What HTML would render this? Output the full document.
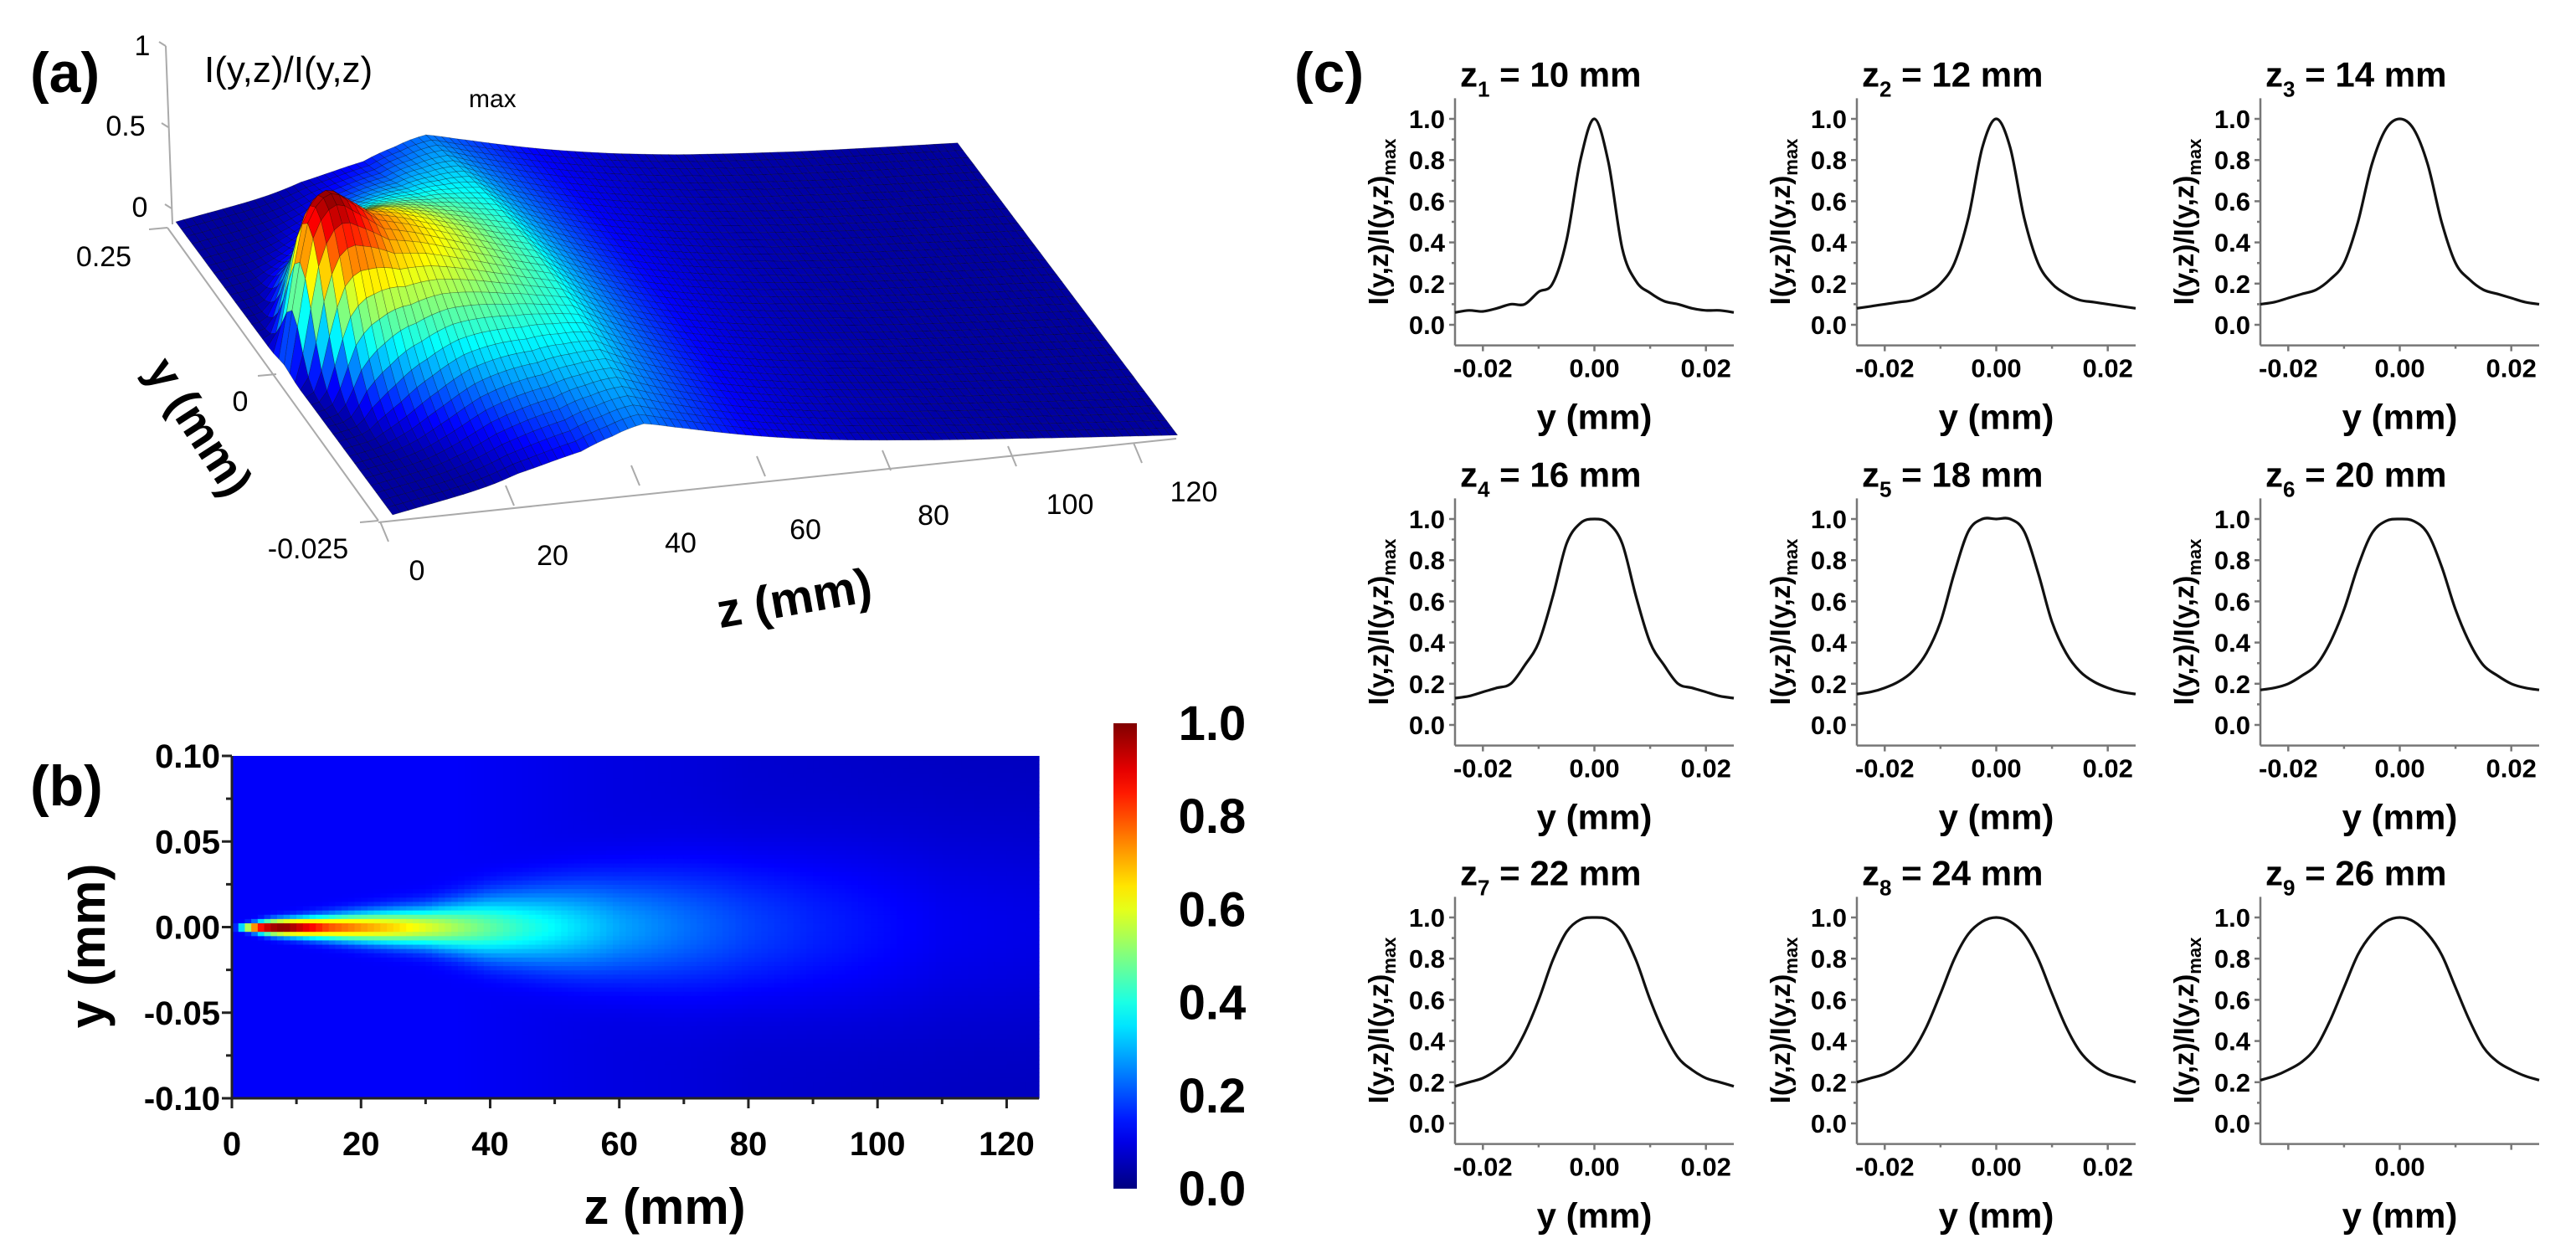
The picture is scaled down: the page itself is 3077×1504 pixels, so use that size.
<!DOCTYPE html>
<html><head><meta charset="utf-8"><style>
html,body{margin:0;padding:0;background:#fff;}
svg{display:block;font-family:"Liberation Sans",Arial,sans-serif;}
</style></head><body>
<svg id="fig" width="3077" height="1504" viewBox="0 0 3077 1504" xmlns="http://www.w3.org/2000/svg">
<defs><linearGradient id="cbGrad" x1="0" y1="1" x2="0" y2="0"></linearGradient></defs>
<g id="panelA"></g>
<g id="panelB"></g>
<g id="panelC"></g>
</svg>
<script>
// ---------- data: panel (b) heatmap / (a) surface model ----------
const hmZ     = [0,2,4,6,8,10,15,20,25,30,35,40,45,50,55,60,70,80,90,100,110,125];
const hmPeak  = [0.05,0.55,0.9,0.98,1.0,0.93,0.76,0.68,0.61,0.54,0.47,0.41,0.36,0.32,0.28,0.24,0.19,0.15,0.12,0.10,0.08,0.07];
const hmWidth = [0.001,0.002,0.003,0.004,0.0045,0.005,0.0065,0.008,0.0095,0.011,0.014,0.018,0.021,0.024,0.027,0.03,0.035,0.04,0.045,0.05,0.055,0.06];
const hmBase  = [0.12,0.12,0.12,0.12,0.12,0.12,0.12,0.12,0.12,0.12,0.12,0.115,0.11,0.105,0.1,0.095,0.09,0.08,0.075,0.07,0.065,0.06];
const bXTicks = [0,20,40,60,80,100,120];
const bYTicks = [0.10,0.05,0.00,-0.05,-0.10];
const bYTickLabels = ["0.10","0.05","0.00","-0.05","-0.10"];
const cbTicks = ["0.0","0.2","0.4","0.6","0.8","1.0"];

// ---------- data: panel (c) profiles ----------
const cY = [-0.025,-0.0225,-0.02,-0.0175,-0.015,-0.0125,-0.01,-0.0075,-0.005,-0.0025,0,0.0025,0.005,0.0075,0.01,0.0125,0.015,0.0175,0.02,0.0225,0.025];
const prof1 = [.06,.07,.065,.08,.10,.10,.16,.20,.41,.80,1.0,.79,.37,.21,.155,.115,.10,.08,.07,.07,.06];
const prof2 = [.08,.09,.10,.11,.12,.15,.20,.30,.52,.86,1.0,.86,.52,.30,.20,.15,.12,.11,.10,.09,.08];
const prof3 = [.10,.11,.13,.15,.17,.22,.30,.50,.78,.95,1.0,.95,.78,.50,.30,.22,.17,.15,.13,.11,.10];
const prof4 = [.13,.14,.16,.18,.20,.29,.40,.62,.88,.98,1.0,.98,.88,.62,.40,.29,.20,.18,.16,.14,.13];
const prof5 = [.15,.16,.18,.21,.26,.35,.50,.74,.94,1.0,1.0,1.0,.94,.74,.50,.35,.26,.21,.18,.16,.15];
const prof6 = [.17,.18,.20,.24,.29,.40,.56,.77,.93,.99,1.0,.99,.93,.77,.56,.40,.29,.24,.20,.18,.17];
const prof7 = [.18,.20,.22,.26,.32,.44,.60,.79,.93,.99,1.0,.99,.93,.79,.60,.44,.32,.26,.22,.20,.18];
const prof8 = [.20,.22,.24,.28,.35,.47,.63,.80,.92,.98,1.0,.98,.92,.80,.63,.47,.35,.28,.24,.22,.20];
const prof9 = [.21,.23,.26,.30,.37,.50,.66,.82,.92,.98,1.0,.98,.92,.82,.66,.50,.37,.30,.26,.23,.21];
const profiles = [prof1,prof2,prof3,prof4,prof5,prof6,prof7,prof8,prof9];
const profZ = ["10","12","14","16","18","20","22","24","26"];
const cYTicks = [0,0.2,0.4,0.6,0.8,1.0];
const cYTickLabels = ["0.0","0.2","0.4","0.6","0.8","1.0"];
const cXTicks = [-0.02,0,0.02];
const cXTickLabels = ["-0.02","0.00","0.02"];

// ---------- helpers ----------
const NS="http://www.w3.org/2000/svg";
function mk(tag,parent,attrs){const e=document.createElementNS(NS,tag);for(const k in attrs)e.setAttribute(k,attrs[k]);parent.appendChild(e);return e;}
function cl(v){return Math.max(0,Math.min(1,v));}
function jet(v){v=cl(v);const r=cl(1.5-Math.abs(4*v-3)),g=cl(1.5-Math.abs(4*v-2)),b=cl(1.5-Math.abs(4*v-1));return `rgb(${Math.round(r*255)},${Math.round(g*255)},${Math.round(b*255)})`;}
function interp(xs,ys,x){if(x<=xs[0])return ys[0];for(let i=1;i<xs.length;i++){if(x<=xs[i]){const t=(x-xs[i-1])/(xs[i]-xs[i-1]);return ys[i-1]+t*(ys[i]-ys[i-1]);}}return ys[ys.length-1];}
function field(z,y,wScale){const p=interp(hmZ,hmPeak,z),w=interp(hmZ,hmWidth,z)*wScale,b=interp(hmZ,hmBase,z);return Math.min(1,b+(p-b*0.5)*Math.exp(-(y*y)/(w*w)));}
function sfield(z,y){const p=interp(hmZ,hmPeak,z),w=interp(hmZ,hmWidth,z)*1.8;const fall=z>40?Math.exp(-(z-40)/25):1;return 0.03+(p-0.03)*fall*Math.exp(-(y*y)/(w*w));}
function txt(parent,x,y,s,attrs){const t=mk('text',parent,Object.assign({x:x,y:y},attrs||{}));t.textContent=s;return t;}

// ---------- panel (b) ----------
const B=document.getElementById('panelB');
const bx0=277,bx1=1241,by0=1312,by1=903;
const bX=z=>bx0+(z/125)*(bx1-bx0);
const bY=y=>by0+((y+0.1)/0.2)*(by1-by0);
const cells=mk('g',B,{});


const dz=1,dy=0.0025;
for(let z=0;z<125;z+=dz){for(let y=-0.1;y<0.0999;y+=dy){
  const v=field(z+dz/2,y+dy/2,1);
  const r=mk('rect',cells,{x:bX(z).toFixed(2),y:bY(y+dy).toFixed(2),width:(bX(z+dz)-bX(z)+0.6).toFixed(2),height:(bY(y)-bY(y+dy)+0.6).toFixed(2),fill:jet(v)});
  
  
}}
const bAx=mk('g',B,{stroke:'#222','stroke-width':3});


mk('line',bAx,{x1:bx0,y1:by1,x2:bx0,y2:by0});
mk('line',bAx,{x1:bx0,y1:by0,x2:bx1,y2:by0});
bXTicks.forEach(t=>{mk('line',bAx,{x1:bX(t),y1:by0,x2:bX(t),y2:by0+12});if(t+10<=125)mk('line',bAx,{x1:bX(t+10),y1:by0,x2:bX(t+10),y2:by0+7});
  const l=txt(B,bX(t),1380,String(t),{'font-size':40,'font-weight':'bold','text-anchor':'middle'});
  });
bYTicks.forEach((t,i)=>{mk('line',bAx,{x1:bx0,y1:bY(t),x2:bx0-12,y2:bY(t)});if(t>-0.1)mk('line',bAx,{x1:bx0,y1:bY(t-0.025),x2:bx0-7,y2:bY(t-0.025)});
  const l=txt(B,bx0-14,bY(t)+14,bYTickLabels[i],{'font-size':40,'font-weight':'bold','text-anchor':'end'});
  });
let t1=txt(B,794,1462,'z (mm)',{'font-size':60,'font-weight':'bold','text-anchor':'middle'});

t1=txt(B,0,0,'y (mm)',{'font-size':60,'font-weight':'bold','text-anchor':'middle',transform:'translate(125,1130) rotate(-90)'});

t1=txt(B,36,962,'(b)',{'font-size':68,'font-weight':'bold'});

// colorbar
const grad=document.getElementById('cbGrad');
for(let i=0;i<=20;i++){mk('stop',grad,{offset:(i/20).toFixed(2),'stop-color':jet(i/20)});}
const cb=mk('rect',B,{x:1330,y:864,width:28,height:556,fill:'url(#cbGrad)'});

cbTicks.forEach((s,i)=>{const l=txt(B,1448,1420-i*(556/5)+20,s,{'font-size':58,'font-weight':'bold','text-anchor':'middle'});
  });

// ---------- panel (a) surface ----------
const A=document.getElementById('panelA');
const eZ=[0,20,40,60,80,100,125];
const frontYs=[615,572,548,537,530,525,520];
const backYs=[265,224,203,194,189,182,171];
function P(z,y){const t=(0.025-y)/0.05;const fx=469+z*7.5,bx=210+z*7.47;const fy=interp(eZ,frontYs,z),by=interp(eZ,backYs,z);
  const v=sfield(z,y);const h=Math.max(0,v-0.03)*200;return [bx+(fx-bx)*t,by+(fy-by)*t-h,v];}
const aAx=mk('g',A,{stroke:'#aaa','stroke-width':2,fill:'none'});

mk('line',aAx,{x1:198,y1:55,x2:206,y2:268});
[[198,55],[201,152],[205,249]].forEach(p=>mk('line',aAx,{x1:p[0],y1:p[1],x2:p[0]-8,y2:p[1]-5}));
mk('line',aAx,{x1:200,y1:272,x2:452,y2:622});
mk('line',aAx,{x1:452,y1:624,x2:1405,y2:524});
[[200,272],[330,447],[452,622]].forEach(p=>mk('line',aAx,{x1:p[0],y1:p[1],x2:p[0]-22,y2:p[1]+2}));
for(let k=0;k<=6;k++){const x=469+k*20*7.5,y=interp(eZ,frontYs,k*20)+8;mk('line',aAx,{x1:x-15,y1:y,x2:x-5,y2:y+24});}
const surf=mk('g',A,{});

const NZ=100,NY=40;
for(let j=0;j<NY;j++){const y0=0.025-j*0.05/NY,y1=0.025-(j+1)*0.05/NY;
  for(let i=NZ-1;i>=0;i--){const z0=i*125/NZ,z1=(i+1)*125/NZ;
    const a=P(z0,y0),b=P(z1,y0),c=P(z1,y1),d=P(z0,y1);const v=(a[2]+b[2]+c[2]+d[2])/4;
    const q=mk('polygon',surf,{points:[a,b,c,d].map(p=>p[0].toFixed(1)+','+p[1].toFixed(1)).join(' '),fill:jet(v),stroke:'rgba(0,0,0,0.4)','stroke-width':0.6});
    
    
  }}
const aLab=(x,y,s,fs,extra)=>{const l=txt(A,x,y,s,Object.assign({'font-size':fs,'text-anchor':'middle'},extra||{}));return l;};
let l;
l=aLab(170,66,'1',34);
l=aLab(150,162,'0.5',34);
l=aLab(167,259,'0',34);
l=aLab(124,318,'0.25',34);
l=aLab(287,491,'0',34);
l=aLab(368,667,'-0.025',34);
[[498,693,'0'],[660,675,'20'],[813,660,'40'],[962,644,'60'],[1115,627,'80'],[1278,614,'100'],[1426,599,'120']].forEach(p=>{
  l=aLab(p[0],p[1],p[2],34);});
l=txt(A,0,0,'z (mm)',{'font-size':58,'font-weight':'bold','text-anchor':'middle',transform:'translate(952,734) rotate(-10)'});

l=txt(A,0,0,'y (mm)',{'font-size':56,'font-weight':'bold','text-anchor':'middle',transform:'translate(222,520) rotate(57)'});

l=txt(A,244,98,'I(y,z)/I(y,z)',{'font-size':44});

l=txt(A,560,128,'max',{'font-size':30});

l=txt(A,36,110,'(a)',{'font-size':68,'font-weight':'bold'});


// ---------- panel (c) ----------
const C=document.getElementById('panelC');
l=txt(C,1546,110,'(c)',{'font-size':68,'font-weight':'bold'});

const colX=[1738,2218,2700],rowZero=[388,866,1342],W=333,U=246;
function pathFrom(pts){let d='M'+pts[0][0].toFixed(1)+','+pts[0][1].toFixed(1);
  for(let i=0;i<pts.length-1;i++){const p0=pts[Math.max(0,i-1)],p1=pts[i],p2=pts[i+1],p3=pts[Math.min(pts.length-1,i+2)];
    const c1=[p1[0]+(p2[0]-p0[0])/6,p1[1]+(p2[1]-p0[1])/6],c2=[p2[0]-(p3[0]-p1[0])/6,p2[1]-(p3[1]-p1[1])/6];
    d+=` C${c1[0].toFixed(1)},${c1[1].toFixed(1)} ${c2[0].toFixed(1)},${c2[1].toFixed(1)} ${p2[0].toFixed(1)},${p2[1].toFixed(1)}`;}
  return d;}
profiles.forEach((prof,k)=>{
  const ax=colX[k%3],z0=rowZero[Math.floor(k/3)];
  const X=y=>ax+((y+0.025)/0.05)*W, Y=v=>z0-v*U;
  const g=mk('g',C,{});
  
  
  const axg=mk('g',g,{stroke:'#777','stroke-width':2.5});
  mk('line',axg,{x1:ax,y1:Y(1.1),x2:ax,y2:Y(-0.1)});
  mk('line',axg,{x1:ax,y1:Y(-0.1),x2:ax+W,y2:Y(-0.1)});
  for(let v=0;v<=1.05;v+=0.1){mk('line',axg,{x1:ax,y1:Y(v),x2:ax-(Math.round(v*10)%2===0?7:4),y2:Y(v)});}
  for(let y=-0.02;y<=0.021;y+=0.01){mk('line',axg,{x1:X(y),y1:Y(-0.1),x2:X(y),y2:Y(-0.1)+(Math.round(y*100)%2===0?7:4)});}
  cYTicks.forEach((t,i)=>{const tl=txt(g,ax-12,Y(t)+11,cYTickLabels[i],{'font-size':31,'font-weight':'bold','text-anchor':'end'});
    });
  cXTicks.forEach((t,i)=>{if(k===8&&t!==0)return;const tl=txt(g,X(t),Y(-0.1)+38,cXTickLabels[i],{'font-size':31,'font-weight':'bold','text-anchor':'middle'});
    });
  const xt=txt(g,ax+W/2,Y(-0.1)+100,'y (mm)',{'font-size':42,'font-weight':'bold','text-anchor':'middle'});
  
  const yt=mk('text',g,{'font-size':33,'font-weight':'bold','text-anchor':'middle',transform:`translate(${ax-80},${Y(0.5)}) rotate(-90)`});
  
  yt.innerHTML='I(y,z)/I(y,z)<tspan font-size="22" dy="9">max</tspan>';
  const tt=mk('text',g,{x:ax+6,y:Y(1.1)-14,'font-size':42,'font-weight':'bold'});
  
  tt.innerHTML=`z<tspan font-size="26" dy="12">${k+1}</tspan><tspan dy="-12"> = ${profZ[k]} mm</tspan>`;
  const pts=cY.map((y,i)=>[X(y),Y(prof[i])]);
  const p=mk('path',g,{d:pathFrom(pts),fill:'none',stroke:'#111','stroke-width':3.2,'stroke-linejoin':'round'});
  
  
});
</script>
</body></html>
